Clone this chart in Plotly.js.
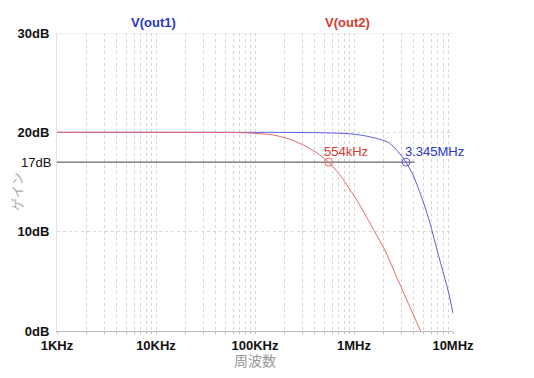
<!DOCTYPE html>
<html>
<head>
<meta charset="utf-8">
<script src="https://cdn.plot.ly/plotly-3.0.1.min.js"></script>
<style>html,body{margin:0;padding:0;background:#fff;}#chart{width:534px;height:378px;}</style>
</head>
<body>
<div id="chart"></div>
<script>
// V(out1) gain (dB) vs frequency (Hz)
const out1Freq = [1000, 10000, 100000, 152000, 718000, 1143000, 1820000, 2296000, 2780000, 3345000, 3945000, 4797000, 5728000, 7345000, 8892000, 10000000];
const out1Gain = [20, 20, 20, 20.0, 19.91, 19.74, 19.3, 18.9, 18.06, 17.0, 15.71, 13.52, 11.18, 7.15, 4.13, 1.78];
// V(out2) gain (dB) vs frequency (Hz)
const out2Freq = [1000, 10000, 40000, 70000, 151000, 224000, 330000, 451000, 554000, 716000, 971000, 1096000, 1618000, 2042000, 2780000, 3656000, 4700000];
const out2Gain = [20, 20, 19.99, 19.97, 19.74, 19.3, 18.56, 17.72, 17.0, 15.75, 13.8, 13.0, 10.0, 8.16, 5.14, 2.45, 0.0];
// -3dB reference line and cursor points
const refLevel = 17;
const refLineFreq = [1000, 4100000];
const cursorFreq = [554000, 3345000];
const cursorLabels = ["554kHz", "3.345MHz"];
const seriesNames = ["V(out1)", "V(out2)"];
// axis ticks
const yTickVals = [0, 10, 20, 30];
const yTickText = ["0dB", "10dB", "20dB", "30dB"];
const xMajor = [1e3, 1e4, 1e5, 1e6, 1e7];
const xMajorText = ["1KHz", "10KHz", "100KHz", "1MHz", "10MHz"];

const blue = "#5a5ae0", red = "#e36b6b";
const blueText = "#2a35d0", redText = "#d93a30";

// all gridline positions (1..9 per decade)
const xTickVals = [], xTickText = [];
for (let d = 0; d < xMajor.length; d++) {
  const base = xMajor[d];
  for (let m = 1; m <= 9; m++) {
    if (d === xMajor.length - 1 && m > 1) break;
    xTickVals.push(base * m);
    xTickText.push(m === 1 ? xMajorText[d] : "");
  }
}

const traces = [
  {x: refLineFreq, y: [refLevel, refLevel], mode: "lines", line: {color: "#444", width: 1}, hoverinfo: "skip"},
  {x: out1Freq, y: out1Gain, mode: "lines", line: {color: blue, width: 1, shape: "spline", smoothing: 0.8}, name: seriesNames[0]},
  {x: out2Freq, y: out2Gain, mode: "lines", line: {color: red, width: 1, shape: "spline", smoothing: 0.8}, name: seriesNames[1]},
  {x: [cursorFreq[0]], y: [refLevel], mode: "markers", marker: {symbol: "circle-open", size: 8, color: red, line: {width: 1}}},
  {x: [cursorFreq[1]], y: [refLevel], mode: "markers", marker: {symbol: "circle-open", size: 8, color: blue, line: {width: 1}}}
];

const F = "Liberation Sans, Arial, Noto Sans CJK JP, sans-serif";
const layout = {
  width: 534, height: 378,
  margin: {l: 57, r: 81, t: 33, b: 47},
  paper_bgcolor: "#fff", plot_bgcolor: "#fff",
  showlegend: false,
  font: {family: F, size: 13, color: "#000"},
  xaxis: {
    type: "log", range: [3, 7],
    tickmode: "array", tickvals: xTickVals, ticktext: xTickText,
    tickfont: {family: F, size: 13, color: "#111", weight: "bold"},
    ticks: "outside", ticklen: 2, tickcolor: "#bbb",
    showgrid: true, gridcolor: "#d6d6d6", griddash: "3px,3px", gridwidth: 1,
    showline: true, linecolor: "#bbb", linewidth: 1, mirror: false,
    zeroline: false,
    title: {text: "周波数", font: {family: F, size: 14, color: "#999"}, standoff: 4}
  },
  yaxis: {
    range: [0, 30],
    tickmode: "array", tickvals: yTickVals, ticktext: yTickText,
    tickfont: {family: F, size: 13, color: "#111", weight: "bold"},
    ticks: "", ticklabelstandoff: 4,
    showgrid: true, gridcolor: "#d6d6d6", griddash: "3px,3px", gridwidth: 1,
    showline: true, linecolor: "#e2e2e2", linewidth: 1,
    zeroline: false
  },
  shapes: [
    {type: "line", xref: "paper", yref: "y", x0: 0, x1: 1, y0: 30, y1: 30, line: {color: "#e2e2e2", width: 1}}
  ],
  annotations: [
    {xref: "paper", yref: "paper", x: -0.01, y: refLevel / 30, xanchor: "right", yanchor: "middle", text: refLevel + "dB", showarrow: false, font: {family: F, size: 13, color: "#111"}},
    {xref: "x", yref: "y", x: Math.log10(cursorFreq[0]), y: refLevel, xanchor: "left", yanchor: "middle", xshift: -7, yshift: 11, text: cursorLabels[0], showarrow: false, font: {family: F, size: 13, color: redText}},
    {xref: "x", yref: "y", x: Math.log10(cursorFreq[1]), y: refLevel, xanchor: "left", yanchor: "middle", xshift: -3, yshift: 11, text: cursorLabels[1], showarrow: false, font: {family: F, size: 13, color: blueText}},
    {xref: "paper", yref: "paper", x: (153.5 - 57) / 396, y: 1, yshift: 11, xanchor: "center", yanchor: "middle", text: "<b>" + seriesNames[0] + "</b>", showarrow: false, font: {family: F, size: 13, color: blueText}},
    {xref: "paper", yref: "paper", x: (347.5 - 57) / 396, y: 1, yshift: 11, xanchor: "center", yanchor: "middle", text: "<b>" + seriesNames[1] + "</b>", showarrow: false, font: {family: F, size: 13, color: redText}},
    {xref: "paper", yref: "paper", x: -40 / 396, y: (331 - 192) / 298, xanchor: "center", yanchor: "middle", text: "ゲイン", textangle: -90, showarrow: false, font: {family: F, size: 13, color: "#aaa"}}
  ]
};

Plotly.newPlot("chart", traces, layout, {displayModeBar: false, staticPlot: true});
</script>
</body>
</html>
